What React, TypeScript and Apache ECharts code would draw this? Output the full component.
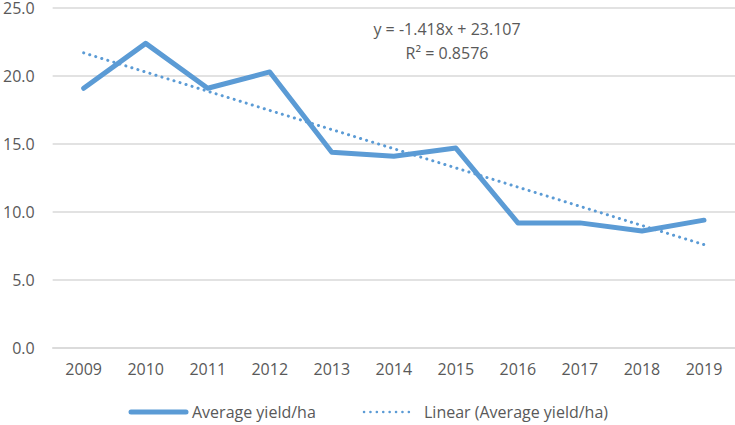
import React, { useEffect, useRef } from "react";
import * as echarts from "echarts";

const years = ["2009", "2010", "2011", "2012", "2013", "2014", "2015", "2016", "2017", "2018", "2019"];
const avgYield = [19.1, 22.4, 19.1, 20.3, 14.4, 14.1, 14.7, 9.2, 9.2, 8.6, 9.4];
// trendline endpoints (first and last category)
const trendStart = 21.7;
const trendEnd = 7.6;
const equationLines = ["y = -1.418x + 23.107", "R² = 0.8576"];
const seriesNames = ["Average yield/ha", "Linear (Average yield/ha)"];

const FONT = "'Open Sans', 'Liberation Sans', sans-serif";
const TXT = "#595959";
const BLUE = "#5B9BD5";
const FS = 16;

export default function App() {
  const ref = useRef<HTMLDivElement>(null);
  useEffect(() => {
    if (!ref.current) return;
    const chart = echarts.init(ref.current, null, { renderer: "svg" });
    const trend = years.map((_, i) => (i === 0 ? trendStart : i === years.length - 1 ? trendEnd : null));
    const legendY = 412;
    chart.setOption({
      animation: false,
      textStyle: { fontFamily: FONT },
      grid: { left: 51, right: 0, top: 6, bottom: 77, containLabel: false },
      xAxis: {
        type: "category",
        data: years,
        boundaryGap: true,
        axisLine: { show: true, lineStyle: { color: "#D9D9D9", width: 1.5 } },
        axisTick: { show: false },
        axisLabel: { color: TXT, fontSize: FS, fontFamily: FONT, margin: 13 },
      },
      yAxis: {
        type: "value",
        min: 0,
        max: 25,
        interval: 5,
        axisLine: { show: false },
        axisTick: { show: false },
        splitLine: { lineStyle: { color: "#D9D9D9", width: 1.5 } },
        axisLabel: {
          color: TXT,
          fontSize: FS,
          fontFamily: FONT,
          margin: 18,
          formatter: (v: number) => v.toFixed(1),
        },
      },
      graphic: [
        {
          type: "text",
          x: 447,
          y: 29,
          style: { text: equationLines[0], fill: TXT, font: `${FS}px ${FONT}`, align: "center", verticalAlign: "middle" },
        },
        {
          type: "text",
          x: 447,
          y: 53,
          style: { text: equationLines[1], fill: TXT, font: `${FS}px ${FONT}`, align: "center", verticalAlign: "middle" },
        },
        {
          type: "line",
          shape: { x1: 131, y1: legendY, x2: 186, y2: legendY },
          style: { stroke: BLUE, lineWidth: 5, lineCap: "round" },
        },
        {
          type: "text",
          x: 192,
          y: legendY,
          style: { text: seriesNames[0], fill: TXT, font: `${FS}px ${FONT}`, align: "left", verticalAlign: "middle" },
        },
        {
          type: "line",
          shape: { x1: 364, y1: legendY, x2: 415, y2: legendY },
          style: { stroke: BLUE, lineWidth: 2.5, lineCap: "round", lineDash: [0.1, 6.3] },
        },
        {
          type: "text",
          x: 424,
          y: legendY,
          style: { text: seriesNames[1], fill: TXT, font: `${FS}px ${FONT}`, align: "left", verticalAlign: "middle" },
        },
      ],
      series: [
        {
          name: seriesNames[0],
          type: "line",
          data: avgYield,
          symbol: "none",
          lineStyle: { color: BLUE, width: 5, cap: "round", join: "round" },
          itemStyle: { color: BLUE },
          z: 2,
        },
        {
          name: seriesNames[1],
          type: "line",
          data: trend,
          connectNulls: true,
          symbol: "none",
          lineStyle: { color: BLUE, width: 3, type: [0.1, 6.2], cap: "round" },
          itemStyle: { color: BLUE },
          z: 3,
        },
      ],
    });
    return () => chart.dispose();
  }, []);
  return <div ref={ref} style={{ width: 735, height: 425, position: "absolute", left: 0, top: 0 }} />;
}
